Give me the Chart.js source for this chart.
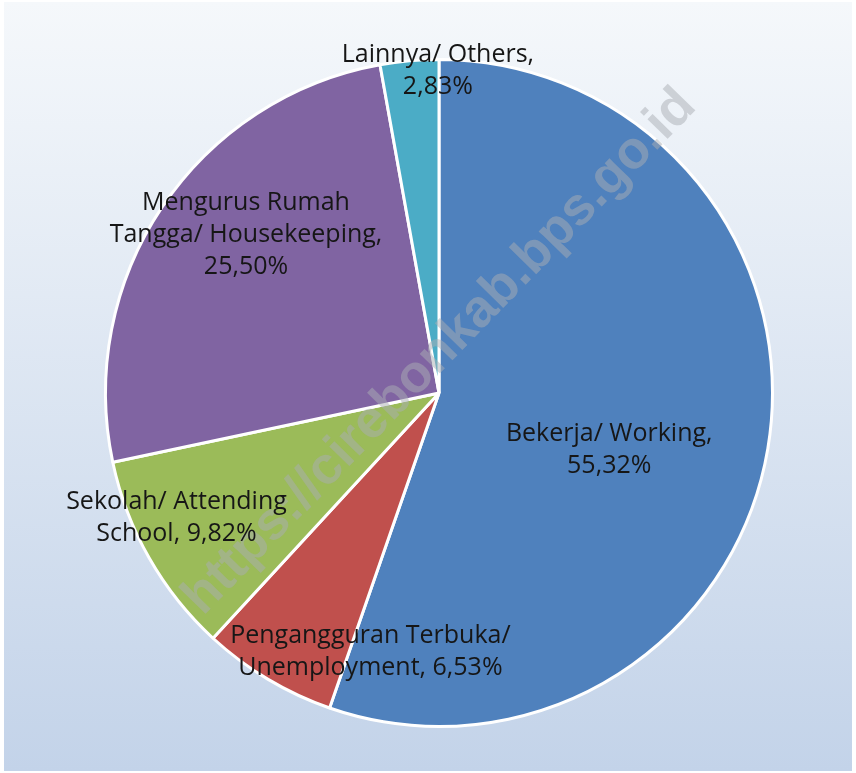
<!DOCTYPE html>
<html>
<head>
<meta charset="utf-8">
<script src="https://cdn.jsdelivr.net/npm/chart.js@4.4.1/dist/chart.umd.min.js"></script>
<style>
  html, body { margin: 0; padding: 0; background: #fff; }
  #wrap { width: 856px; height: 773px; position: relative; }
</style>
</head>
<body>
<div id="wrap"><canvas id="grafik"></canvas></div>
<script>
// data kegiatan utama penduduk (%)
const kategori = [
  ["Bekerja/ Working,"],
  ["Pengangguran Terbuka/", "Unemployment,"],
  ["Sekolah/ Attending", "School,"],
  ["Mengurus Rumah", "Tangga/ Housekeeping,"],
  ["Lainnya/ Others,"]
];
const persen = [55.32, 6.53, 9.82, 25.50, 2.83];
const warna = ["#4F81BD", "#C0504D", "#9BBB59", "#8064A2", "#4BACC6"];

// posisi label: [sudut derajat, fraksi radius] relatif ke pusat pie
const posLabel = [[18.1, 0.537], [104.9, 0.80], [154.8, 0.87], [219.5, 0.75], [269.8, 0.97]];

const fmt = v => v.toFixed(2).replace(".", ",") + "%";

const latar = {
  id: "latar",
  beforeDraw(chart) {
    const c = chart.ctx;
    const g = c.createLinearGradient(0, 2, 0, 771);
    g.addColorStop(0, "#F5F8FB");
    g.addColorStop(1, "#C3D3E9");
    c.save();
    c.fillStyle = g;
    c.fillRect(4, 2, 848, 769);
    c.restore();
  }
};

const label = {
  id: "label",
  afterDatasetsDraw(chart) {
    const c = chart.ctx;
    const arcs = chart.getDatasetMeta(0).data;
    const x0 = arcs[0].x, y0 = arcs[0].y, r = arcs[0].outerRadius;

    // watermark
    c.save();
    c.translate(x0 + 1, y0 - 41);
    c.rotate(-45.8 * Math.PI / 180);
    c.font = "bold 53px 'Liberation Sans', Arial, sans-serif";
    c.fillStyle = "rgba(170,174,180,0.5)";
    c.textAlign = "center";
    c.textBaseline = "middle";
    c.fillText("https://cirebonkab.bps.go.id", 0, 0);
    c.restore();

    c.save();
    c.font = "25px 'Open Sans', sans-serif";
    c.fillStyle = "#161616";
    c.textAlign = "center";
    c.textBaseline = "middle";
    arcs.forEach((a, i) => {
      const [deg, f] = posLabel[i];
      const t = deg * Math.PI / 180;
      const cx = x0 + Math.cos(t) * r * f;
      const cy = y0 + Math.sin(t) * r * f;
      const baris = kategori[i].slice();
      const nilai = fmt(persen[i]);
      if (i === 1 || i === 2) baris[baris.length - 1] += " " + nilai;
      else baris.push(nilai);
      const lh = 32;
      const top = cy - (baris.length - 1) * lh / 2 + 1;
      baris.forEach((s, k) => c.fillText(s, cx, top + k * lh));
    });
    c.restore();
  }
};

new Chart(document.getElementById("grafik"), {
  type: "pie",
  data: {
    labels: kategori.map(k => k.join(" ")),
    datasets: [{
      data: persen,
      backgroundColor: warna,
      borderColor: "#ffffff",
      borderWidth: 3
    }]
  },
  options: {
    responsive: true,
    maintainAspectRatio: false,
    animation: false,
    layout: { padding: { left: 104, right: 82, top: 57, bottom: 44 } },
    plugins: {
      legend: { display: false },
      tooltip: { enabled: false }
    }
  },
  plugins: [latar, label]
});
</script>
</body>
</html>
